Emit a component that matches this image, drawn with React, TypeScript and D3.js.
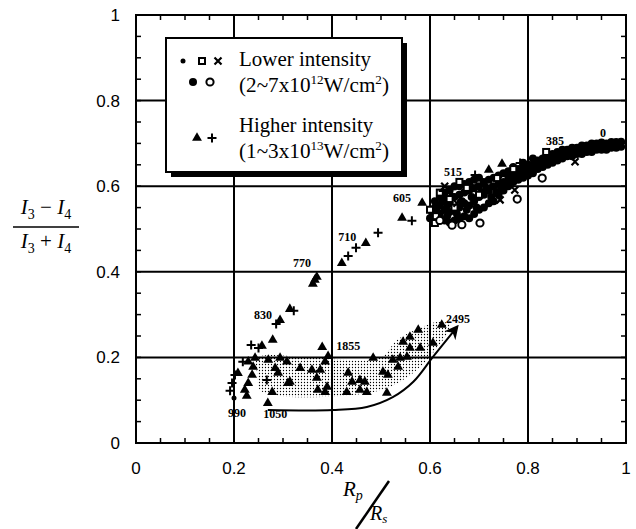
import React, { useEffect, useRef } from "react";
import * as d3 from "d3";

// lower intensity series, [Rp/Rs, (I3-I4)/(I3+I4)]
const lowFilled: [number, number][] = [
  [0.6, 0.525], [0.6, 0.545], [0.605, 0.535], [0.61, 0.525], [0.61, 0.55], [0.61, 0.565], [0.615, 0.54], [0.62, 0.53],
  [0.62, 0.555], [0.62, 0.575], [0.625, 0.565], [0.63, 0.52], [0.63, 0.545], [0.63, 0.57], [0.63, 0.585],
  [0.635, 0.53], [0.635, 0.555], [0.64, 0.515], [0.64, 0.54], [0.64, 0.56], [0.64, 0.59], [0.645, 0.575],
  [0.65, 0.52], [0.65, 0.545], [0.65, 0.575], [0.65, 0.6], [0.655, 0.535], [0.66, 0.525], [0.66, 0.55], [0.66, 0.58],
  [0.66, 0.6], [0.665, 0.565], [0.67, 0.53], [0.67, 0.56], [0.67, 0.585], [0.67, 0.605], [0.675, 0.545],
  [0.68, 0.525], [0.68, 0.555], [0.68, 0.59], [0.68, 0.61], [0.685, 0.575], [0.69, 0.535], [0.69, 0.565], [0.69, 0.595],
  [0.69, 0.615], [0.695, 0.55], [0.7, 0.545], [0.7, 0.575], [0.7, 0.6], [0.7, 0.62], [0.705, 0.585], [0.71, 0.55],
  [0.71, 0.58], [0.71, 0.61], [0.715, 0.595], [0.72, 0.56], [0.72, 0.59], [0.72, 0.615], [0.725, 0.575],
  [0.73, 0.565], [0.73, 0.6], [0.73, 0.62], [0.735, 0.585], [0.74, 0.58], [0.74, 0.605], [0.74, 0.625],
  [0.745, 0.595], [0.75, 0.59], [0.75, 0.61], [0.75, 0.63], [0.755, 0.605], [0.76, 0.6], [0.76, 0.62], [0.76, 0.635],
  [0.765, 0.615], [0.77, 0.61], [0.77, 0.63], [0.77, 0.645], [0.775, 0.625], [0.78, 0.615], [0.78, 0.64],
  [0.785, 0.63], [0.79, 0.62], [0.79, 0.64], [0.79, 0.655], [0.795, 0.635], [0.8, 0.625], [0.8, 0.65],
  [0.805, 0.64], [0.81, 0.63], [0.81, 0.65], [0.81, 0.665], [0.815, 0.645], [0.82, 0.64], [0.82, 0.66],
  [0.825, 0.65], [0.83, 0.645], [0.83, 0.665], [0.835, 0.655], [0.84, 0.65], [0.84, 0.67], [0.845, 0.66],
  [0.85, 0.655], [0.85, 0.675], [0.855, 0.665], [0.86, 0.66], [0.86, 0.68], [0.865, 0.67], [0.87, 0.665],
  [0.87, 0.685], [0.875, 0.675], [0.88, 0.67], [0.88, 0.685], [0.885, 0.678], [0.89, 0.67], [0.89, 0.69],
  [0.895, 0.68], [0.9, 0.675], [0.9, 0.69], [0.905, 0.683], [0.91, 0.675], [0.91, 0.695], [0.915, 0.686],
  [0.92, 0.68], [0.92, 0.695], [0.925, 0.688], [0.93, 0.68], [0.93, 0.7], [0.935, 0.69], [0.94, 0.685], [0.94, 0.7],
  [0.945, 0.692], [0.95, 0.685], [0.95, 0.702], [0.955, 0.694], [0.96, 0.685], [0.96, 0.7], [0.965, 0.695],
  [0.97, 0.69], [0.97, 0.703], [0.975, 0.697], [0.98, 0.69], [0.98, 0.703], [0.985, 0.698], [0.99, 0.692],
  [0.99, 0.704],
];
const lowDots: [number, number][] = [
  [0.66, 0.565], [0.71, 0.59], [0.76, 0.62], [0.83, 0.655], [0.87, 0.67], [0.92, 0.68], [0.97, 0.69], [0.625, 0.54],
];
const lowSquares: [number, number][] = [
  [0.61, 0.514], [0.612, 0.53], [0.675, 0.596], [0.737, 0.619], [0.837, 0.68], [0.66, 0.61], [0.64, 0.57],
  [0.7, 0.58], [0.77, 0.64], [0.6, 0.545], [0.65, 0.55], [0.62, 0.585],
];
const lowCrosses: [number, number][] = [
  [0.773, 0.591], [0.743, 0.568], [0.896, 0.657], [0.69, 0.6], [0.655, 0.56], [0.72, 0.6], [0.63, 0.6],
];
const lowOpen: [number, number][] = [
  [0.645, 0.509], [0.665, 0.51], [0.702, 0.514], [0.778, 0.57], [0.829, 0.619], [0.62, 0.52],
];

// higher intensity series
const highTriangles: [number, number][] = [
  [0.469, 0.467], [0.42, 0.42], [0.365, 0.381], [0.361, 0.372], [0.369, 0.388], [0.314, 0.313], [0.294, 0.287],
  [0.279, 0.241], [0.257, 0.227], [0.38, 0.224], [0.229, 0.19], [0.243, 0.199], [0.239, 0.178], [0.237, 0.159],
  [0.229, 0.14], [0.222, 0.124], [0.226, 0.11], [0.208, 0.163], [0.27, 0.194], [0.284, 0.175], [0.29, 0.164],
  [0.294, 0.199], [0.308, 0.19], [0.314, 0.143], [0.335, 0.175], [0.359, 0.171], [0.369, 0.152], [0.376, 0.171],
  [0.386, 0.19], [0.392, 0.203], [0.371, 0.124], [0.39, 0.131], [0.386, 0.119], [0.278, 0.119], [0.269, 0.093],
  [0.31, 0.14], [0.433, 0.164], [0.441, 0.143], [0.43, 0.119], [0.457, 0.147], [0.467, 0.143], [0.457, 0.124],
  [0.471, 0.119], [0.484, 0.199], [0.504, 0.166], [0.514, 0.159], [0.524, 0.194], [0.539, 0.199], [0.553, 0.201],
  [0.559, 0.222], [0.545, 0.236], [0.559, 0.248], [0.576, 0.264], [0.58, 0.222], [0.606, 0.234], [0.624, 0.276],
  [0.535, 0.178], [0.512, 0.117], [0.584, 0.561], [0.543, 0.526], [0.747, 0.652], [0.72, 0.638],
];
const highPlus: [number, number][] = [
  [0.494, 0.491], [0.449, 0.456], [0.433, 0.437], [0.322, 0.309], [0.286, 0.278], [0.235, 0.229], [0.25, 0.222],
  [0.202, 0.159], [0.196, 0.14], [0.192, 0.122], [0.218, 0.19], [0.267, 0.147], [0.563, 0.519], [0.627, 0.589],
  [0.645, 0.593], [0.692, 0.626], [0.784, 0.654],
];
const highDots: [number, number][] = [[0.2, 0.105]];

// laser delay labels along the data
const delayLabels = ["0", "385", "515", "605", "710", "770", "830", "1855", "2495", "990", "1050"];
const delayX = [0.953, 0.855, 0.647, 0.543, 0.431, 0.339, 0.259, 0.433, 0.657, 0.206, 0.284];
const delayY = [0.724, 0.706, 0.633, 0.572, 0.481, 0.421, 0.299, 0.227, 0.29, 0.07, 0.068];

// shaded region and arrow
const shadeOutline: [number, number][] = [
  [0.247, 0.199], [0.36, 0.2], [0.498, 0.199], [0.533, 0.241], [0.58, 0.269], [0.614, 0.283], [0.641, 0.276],
  [0.606, 0.21], [0.565, 0.163], [0.512, 0.128], [0.443, 0.112], [0.361, 0.107], [0.294, 0.11], [0.253, 0.124],
  [0.247, 0.164],
];
const arrowPath: [number, number][] = [
  [0.269, 0.077], [0.402, 0.077], [0.471, 0.084], [0.524, 0.107], [0.566, 0.143], [0.606, 0.201], [0.655, 0.271],
];

const majorTicks = [0, 0.2, 0.4, 0.6, 0.8, 1];
const tickLabels = ["0", "0.2", "0.4", "0.6", "0.8", "1"];

export default function App() {
  const ref = useRef<SVGSVGElement>(null);

  useEffect(() => {
    const svg = d3.select(ref.current);
    svg.selectAll("*").remove();

    const x = d3.scaleLinear().domain([0, 1]).range([136, 626]);
    const y = d3.scaleLinear().domain([0, 1]).range([443, 15]);
    const sans = "'Liberation Sans', Arial, sans-serif";
    const serif = "'Liberation Serif', 'Times New Roman', serif";

    const defs = svg.append("defs");
    const pat = defs.append("pattern").attr("id", "stipple").attr("patternUnits", "userSpaceOnUse")
      .attr("width", 3).attr("height", 3);
    pat.append("circle").attr("cx", 1.5).attr("cy", 1.5).attr("r", 0.65).attr("fill", "#000");
    defs.append("marker").attr("id", "head").attr("viewBox", "0 0 10 10").attr("refX", 8).attr("refY", 5)
      .attr("markerWidth", 7).attr("markerHeight", 7).attr("orient", "auto")
      .append("path").attr("d", "M0,0 L10,5 L0,10 L3,5 Z").attr("fill", "#000");

    svg.append("rect").attr("width", 636).attr("height", 529).attr("fill", "#fff");

    // grid lines
    const grid = svg.append("g");
    majorTicks.slice(1, -1).forEach(v => {
      grid.append("line").attr("x1", x(v)).attr("x2", x(v)).attr("y1", y(0)).attr("y2", y(1))
        .attr("stroke", "#000").attr("stroke-width", 2);
      grid.append("line").attr("x1", x(0)).attr("x2", x(1)).attr("y1", y(v)).attr("y2", y(v))
        .attr("stroke", "#000").attr("stroke-width", 2);
    });

    // minor ticks on every side, pointing in
    const minor = d3.range(0, 1.001, 0.05);
    const tk = svg.append("g").attr("stroke", "#000").attr("stroke-width", 1.5);
    minor.forEach(v => {
      tk.append("line").attr("x1", x(v)).attr("x2", x(v)).attr("y1", y(0)).attr("y2", y(0) - 5);
      tk.append("line").attr("x1", x(v)).attr("x2", x(v)).attr("y1", y(1)).attr("y2", y(1) + 5);
      tk.append("line").attr("x1", x(0)).attr("x2", x(0) + 5).attr("y1", y(v)).attr("y2", y(v));
      tk.append("line").attr("x1", x(1)).attr("x2", x(1) - 5).attr("y1", y(v)).attr("y2", y(v));
    });

    // frame
    svg.append("rect").attr("x", x(0)).attr("y", y(1)).attr("width", x(1) - x(0)).attr("height", y(0) - y(1))
      .attr("fill", "none").attr("stroke", "#000").attr("stroke-width", 2);

    // tick labels
    majorTicks.forEach((v, i) => {
      svg.append("text").attr("x", x(v)).attr("y", 474).attr("text-anchor", "middle")
        .style("font-family", sans).style("font-size", "17px").text(tickLabels[i]);
      svg.append("text").attr("x", 120).attr("y", y(v) + 6).attr("text-anchor", "end")
        .style("font-family", sans).style("font-size", "17px").text(tickLabels[i]);
    });

    // shaded band and arrow
    const line = d3.line<[number, number]>().x(d => x(d[0])).y(d => y(d[1]));
    svg.append("path").attr("d", line.curve(d3.curveCatmullRomClosed)(shadeOutline))
      .attr("fill", "url(#stipple)").attr("stroke", "none");
    svg.append("path").attr("d", line.curve(d3.curveCatmullRom)(arrowPath))
      .attr("fill", "none").attr("stroke", "#000").attr("stroke-width", 2).attr("marker-end", "url(#head)");

    const pts = svg.append("g");
    const place = (d: [number, number]) => `translate(${x(d[0])},${y(d[1])})`;
    const tri = d3.symbol().type(d3.symbolTriangle).size(42)();
    const plusPath = "M-4.5,0H4.5M0,-4.5V4.5";
    const crossPath = "M-3.5,-3.5L3.5,3.5M-3.5,3.5L3.5,-3.5";

    const drawSet = (g: any, kind: string, data: [number, number][]) => {
      data.forEach(d => {
        if (kind === "filled") g.append("circle").attr("transform", place(d)).attr("r", 4).attr("fill", "#000");
        if (kind === "dot") g.append("circle").attr("transform", place(d)).attr("r", 2.5).attr("fill", "#000");
        if (kind === "open") g.append("circle").attr("transform", place(d)).attr("r", 3.6).attr("fill", "#fff")
          .attr("stroke", "#000").attr("stroke-width", 2);
        if (kind === "square") g.append("rect").attr("transform", place(d)).attr("x", -3).attr("y", -3)
          .attr("width", 6).attr("height", 6).attr("fill", "#fff").attr("stroke", "#000").attr("stroke-width", 2);
        if (kind === "cross") g.append("path").attr("transform", place(d)).attr("d", crossPath)
          .attr("stroke", "#000").attr("stroke-width", 2.2);
        if (kind === "tri") g.append("path").attr("transform", place(d)).attr("d", tri).attr("fill", "#000");
        if (kind === "plus") g.append("path").attr("transform", place(d)).attr("d", plusPath)
          .attr("stroke", "#000").attr("stroke-width", 2);
      });
    };
    drawSet(pts, "filled", lowFilled);
    drawSet(pts, "dot", lowDots);
    drawSet(pts, "square", lowSquares);
    drawSet(pts, "cross", lowCrosses);
    drawSet(pts, "open", lowOpen);
    drawSet(pts, "tri", highTriangles);
    drawSet(pts, "plus", highPlus);
    drawSet(pts, "dot", highDots);

    // delay labels
    delayLabels.forEach((t, i) => {
      svg.append("text").attr("x", x(delayX[i])).attr("y", y(delayY[i]) + 4).attr("text-anchor", "middle")
        .style("font-family", serif).style("font-size", "12px").style("font-weight", "bold").text(t);
    });

    // legend with drop shadow
    const lg = svg.append("g");
    lg.append("rect").attr("x", 171).attr("y", 43).attr("width", 236).attr("height", 134).attr("fill", "#000");
    lg.append("rect").attr("x", 166).attr("y", 38).attr("width", 236).attr("height", 134)
      .attr("fill", "#fff").attr("stroke", "#000").attr("stroke-width", 2);
    const item = (kind: string, px: number, py: number) => {
      drawSet(lg, kind, [[x.invert(px), y.invert(py)]]);
    };
    item("dot", 183, 61);
    item("square", 202, 61);
    item("cross", 218, 61);
    item("filled", 193, 82);
    item("open", 210, 82);
    item("tri", 197, 138);
    item("plus", 212, 138);

    const lt = (yy: number, w: number) => lg.append("text").attr("x", 239).attr("y", yy)
      .attr("textLength", w).attr("lengthAdjust", "spacingAndGlyphs")
      .style("font-family", serif).style("font-size", "21px");
    lt(66, 132).text("Lower intensity");
    const l2 = lt(92, 150);
    l2.append("tspan").text("(2~7x10");
    l2.append("tspan").attr("dy", -8).style("font-size", "13px").text("12");
    l2.append("tspan").attr("dy", 8).text("W/cm");
    l2.append("tspan").attr("dy", -8).style("font-size", "13px").text("2");
    l2.append("tspan").attr("dy", 8).text(")");
    lt(132, 134).text("Higher intensity");
    const l4 = lt(158, 150);
    l4.append("tspan").text("(1~3x10");
    l4.append("tspan").attr("dy", -8).style("font-size", "13px").text("13");
    l4.append("tspan").attr("dy", 8).text("W/cm");
    l4.append("tspan").attr("dy", -8).style("font-size", "13px").text("2");
    l4.append("tspan").attr("dy", 8).text(")");

    // y axis label as a fraction
    const frac = (yy: number, op: string) => {
      const t = svg.append("text").attr("x", 46).attr("y", yy).attr("text-anchor", "middle")
        .style("font-family", serif).style("font-size", "21px");
      t.append("tspan").style("font-style", "italic").text("I");
      t.append("tspan").attr("dy", 5).style("font-size", "14px").text("3");
      t.append("tspan").attr("dy", -5).text(` ${op} `);
      t.append("tspan").style("font-style", "italic").text("I");
      t.append("tspan").attr("dy", 5).style("font-size", "14px").text("4");
    };
    frac(214, "\u2212");
    svg.append("line").attr("x1", 13).attr("x2", 79).attr("y1", 227).attr("y2", 227)
      .attr("stroke", "#000").attr("stroke-width", 1.5);
    frac(248, "+");

    // x axis label Rp / Rs
    const rp = svg.append("text").attr("x", 343).attr("y", 496).style("font-family", serif).style("font-size", "21px");
    rp.append("tspan").style("font-style", "italic").text("R");
    rp.append("tspan").attr("dy", 4).style("font-size", "14px").style("font-style", "italic").text("p");
    svg.append("line").attr("x1", 389).attr("y1", 481).attr("x2", 356).attr("y2", 529)
      .attr("stroke", "#000").attr("stroke-width", 2.5);
    const rs = svg.append("text").attr("x", 370).attr("y", 520).style("font-family", serif).style("font-size", "20px");
    rs.append("tspan").style("font-style", "italic").text("R");
    rs.append("tspan").attr("dy", 3).style("font-size", "13px").style("font-style", "italic").text("s");
  }, []);

  return (
    <svg ref={ref} width={636} height={529} style={{ position: "absolute", left: 0, top: 0 }} />
  );
}
